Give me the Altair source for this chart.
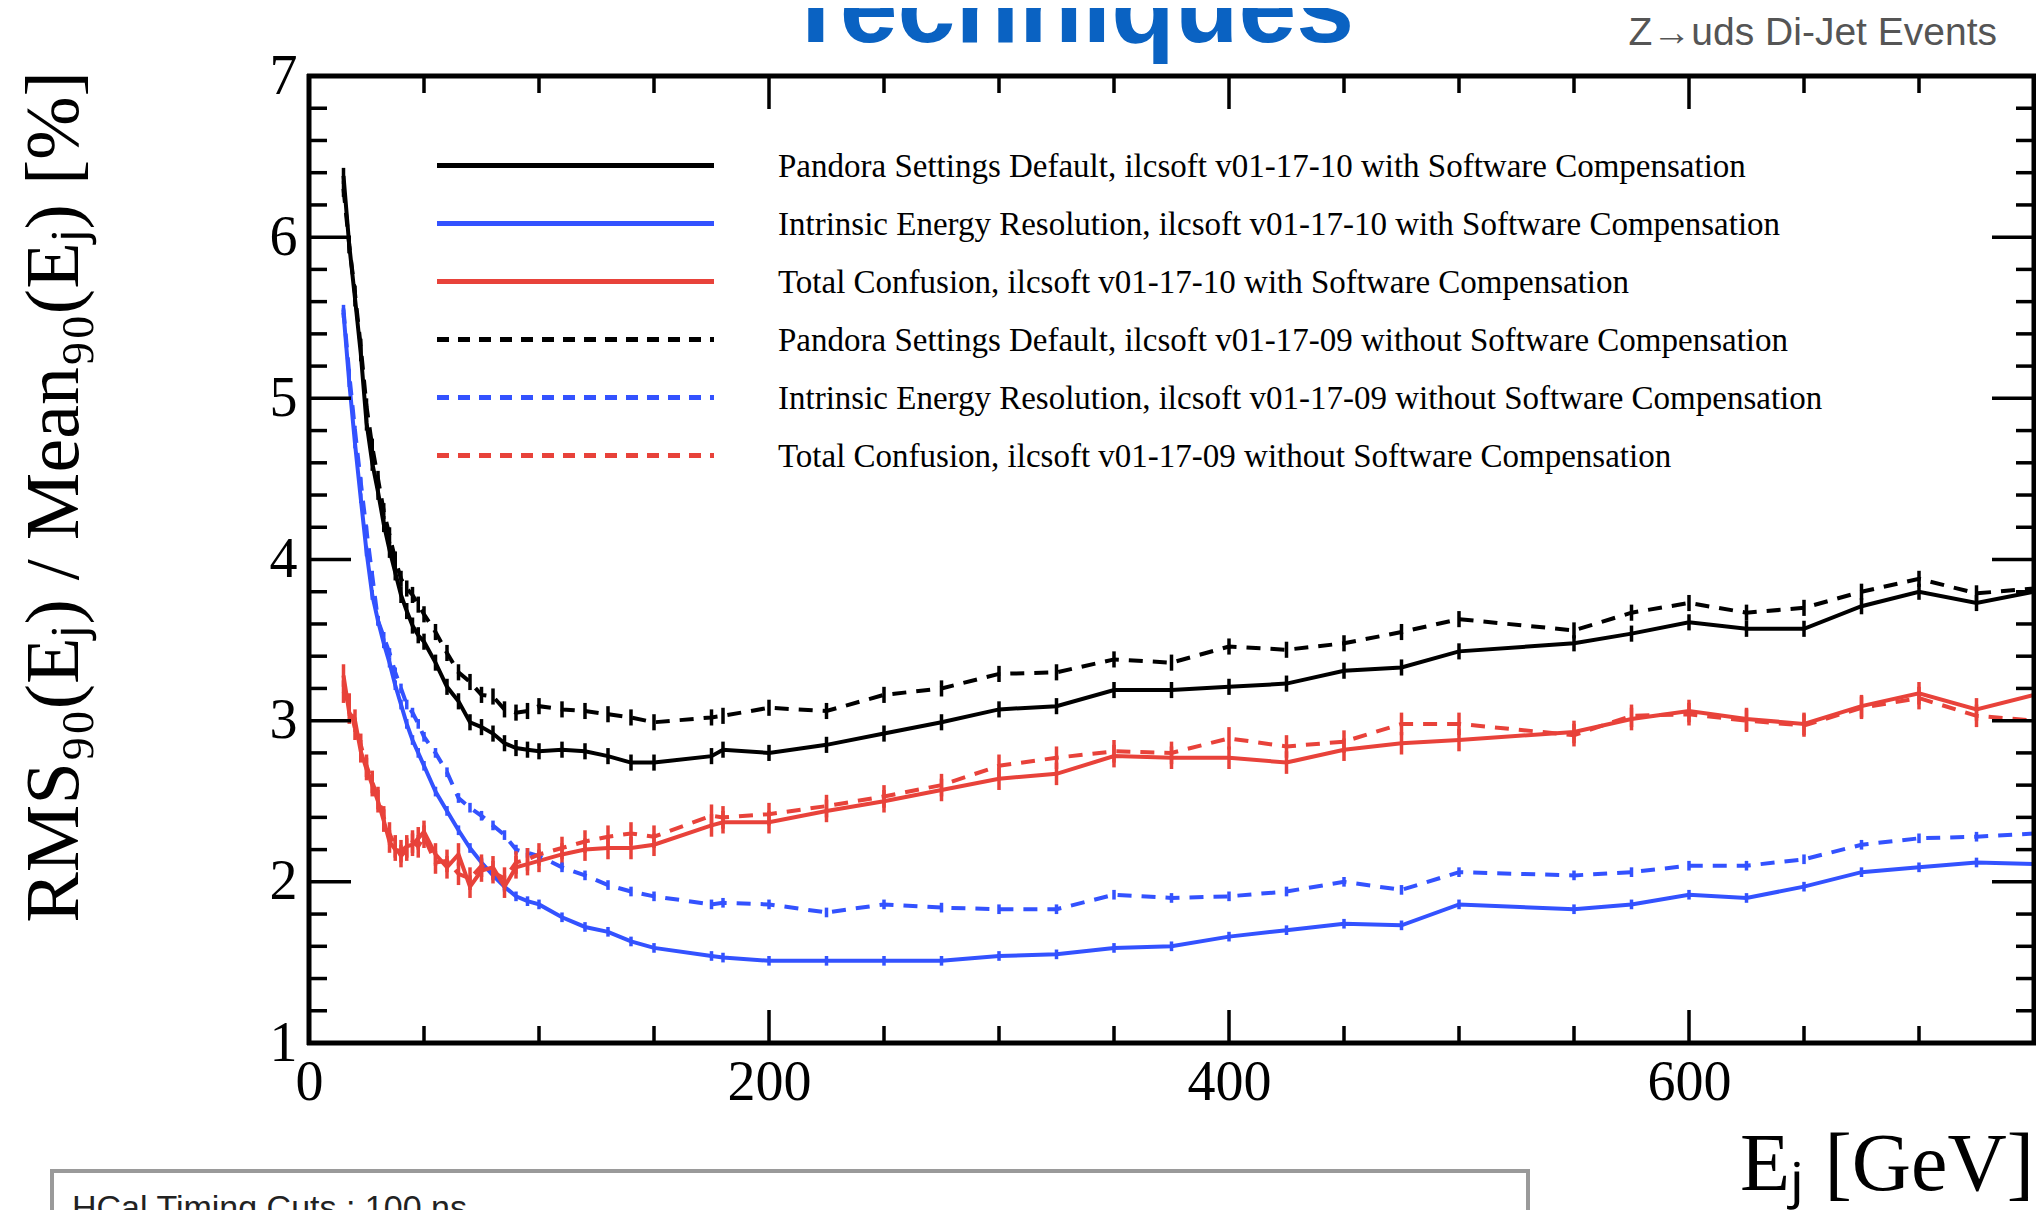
import altair as alt
import pandas as pd

# ---------------- data ----------------
E = [15, 17.5, 20, 22.5, 25, 27.5, 30, 32.5, 35, 37.5, 40, 42.5, 45, 47.5, 50,
     55, 60, 65, 70, 75, 80, 85, 90, 95, 100, 110, 120, 130, 140, 150, 175, 180,
     200, 225, 250, 275, 300, 325, 350, 375, 400, 425, 450, 475, 500, 550, 575,
     600, 625, 650, 675, 700, 725, 750]

psd_sc = [6.38, 5.95, 5.62, 5.28, 4.85, 4.60, 4.42, 4.22, 4.06, 3.92, 3.78, 3.68, 3.59, 3.53, 3.49,
          3.36, 3.21, 3.12, 2.99, 2.96, 2.92, 2.86, 2.83, 2.82, 2.81, 2.82, 2.81, 2.78, 2.74, 2.74, 2.78, 2.82,
          2.80, 2.85, 2.92, 2.99, 3.07, 3.09, 3.19, 3.19, 3.21, 3.23, 3.31, 3.33, 3.43, 3.48, 3.54,
          3.61, 3.57, 3.57, 3.71, 3.80, 3.73, 3.80]

ier_sc = [5.53, 5.10, 4.72, 4.38, 4.05, 3.78, 3.62, 3.48, 3.36, 3.22, 3.10, 2.98, 2.88, 2.80, 2.72,
          2.56, 2.44, 2.32, 2.21, 2.12, 2.04, 1.97, 1.91, 1.88, 1.86, 1.78, 1.72, 1.69, 1.63, 1.59, 1.54, 1.53,
          1.51, 1.51, 1.51, 1.51, 1.54, 1.55, 1.59, 1.60, 1.66, 1.70, 1.74, 1.73, 1.86, 1.83, 1.86,
          1.92, 1.90, 1.97, 2.06, 2.09, 2.12, 2.11]

tc_sc = [3.28, 3.05, 3.00, 2.81, 2.70, 2.60, 2.50, 2.38, 2.25, 2.20, 2.19, 2.22, 2.23, 2.27, 2.31,
         2.17, 2.09, 2.17, 1.97, 2.07, 2.09, 1.97, 2.09, 2.11, 2.13, 2.17, 2.20, 2.21, 2.21, 2.23, 2.35, 2.37,
         2.37, 2.44, 2.50, 2.57, 2.64, 2.67, 2.78, 2.77, 2.77, 2.74, 2.82, 2.86, 2.88, 2.93, 3.01,
         3.06, 3.01, 2.98, 3.09, 3.17, 3.07, 3.16]

psd_nosc = [6.30, 5.95, 5.65, 5.32, 4.95, 4.70, 4.50, 4.30, 4.15, 4.00, 3.88, 3.82, 3.78, 3.72, 3.66,
            3.55, 3.42, 3.30, 3.24, 3.16, 3.15, 3.07, 3.05, 3.06, 3.09, 3.07, 3.06, 3.04, 3.02, 2.99, 3.02, 3.03,
            3.08, 3.06, 3.16, 3.20, 3.29, 3.30, 3.38, 3.36, 3.46, 3.44, 3.48, 3.55, 3.63, 3.56, 3.67,
            3.73, 3.67, 3.70, 3.80, 3.88, 3.79, 3.82]

ier_nosc = [5.55, 5.15, 4.80, 4.48, 4.18, 3.90, 3.62, 3.52, 3.42, 3.30, 3.20, 3.10, 3.05, 2.98, 2.90,
            2.80, 2.68, 2.52, 2.46, 2.41, 2.35, 2.29, 2.20, 2.18, 2.16, 2.09, 2.04, 1.98, 1.94, 1.91, 1.86, 1.87,
            1.86, 1.81, 1.86, 1.84, 1.83, 1.83, 1.92, 1.90, 1.91, 1.94, 2.00, 1.95, 2.06, 2.04, 2.06,
            2.10, 2.10, 2.14, 2.23, 2.27, 2.28, 2.30]

tc_nosc = [3.18, 3.10, 2.95, 2.85, 2.72, 2.62, 2.52, 2.40, 2.30, 2.22, 2.16, 2.20, 2.25, 2.22, 2.28,
           2.12, 2.13, 2.05, 2.02, 2.10, 2.06, 2.02, 2.12, 2.14, 2.17, 2.21, 2.25, 2.28, 2.30, 2.28, 2.41, 2.40,
           2.42, 2.47, 2.53, 2.60, 2.72, 2.77, 2.81, 2.80, 2.89, 2.84, 2.87, 2.98, 2.98, 2.91, 3.03,
           3.04, 3.00, 2.97, 3.08, 3.14, 3.03, 3.00]

labels = [
    "Pandora Settings Default, ilcsoft v01-17-10 with Software Compensation",
    "Intrinsic Energy Resolution, ilcsoft v01-17-10 with Software Compensation",
    "Total Confusion, ilcsoft v01-17-10 with Software Compensation",
    "Pandora Settings Default, ilcsoft v01-17-09 without Software Compensation",
    "Intrinsic Energy Resolution, ilcsoft v01-17-09 without Software Compensation",
    "Total Confusion, ilcsoft v01-17-09 without Software Compensation",
]
values = [psd_sc, ier_sc, tc_sc, psd_nosc, ier_nosc, tc_nosc]
errors = [0.05, 0.03, 0.07, 0.05, 0.03, 0.07]

x_tick_labels = [0, 200, 400, 600]
y_tick_labels = [1, 2, 3, 4, 5, 6, 7]
x_minor = [50, 100, 150, 250, 300, 350, 450, 500, 550, 650, 700]
x_major = [200, 400, 600]
y_major = [2, 3, 4, 5, 6]
y_minor = [v / 10 for v in range(12, 70, 2) if v % 10 != 0]

# ---------------- styles ----------------
BLACK, BLUE, RED = "#000000", "#3352ff", "#e8423a"
colors = [BLACK, BLUE, RED, BLACK, BLUE, RED]
dashed = [False, False, False, True, True, True]
W, H = 1725, 967
SERIF = "Liberation Serif"
SANS = "Liberation Sans"

xs = alt.Scale(domain=[0, 750], nice=False, zero=False)
ys = alt.Scale(domain=[1, 7], nice=False, zero=False)
xaxis = alt.Axis(values=x_tick_labels, ticks=False, domain=False, grid=False,
                 labelFont=SERIF, labelFontSize=56, labelPadding=12, labelColor="black",
                 labelFlush=False, labelOverlap=False, title=None)
yaxis = alt.Axis(values=y_tick_labels, ticks=False, domain=False, grid=False,
                 labelFont=SERIF, labelFontSize=56, labelPadding=12, labelColor="black",
                 labelFlush=False, labelOverlap=False, title=None)

layers = []

# data lines + error bars
for lab, vals, col, dsh, err in zip(labels, values, colors, dashed, errors):
    df = pd.DataFrame({"E": E, "v": vals})
    df["lo"] = df["v"] - err
    df["hi"] = df["v"] + err
    kw = dict(color=col, strokeWidth=4)
    if dsh:
        kw["strokeDash"] = [14, 10]
    base = alt.Chart(df)
    layers.append(base.mark_line(**kw).encode(
        x=alt.X("E:Q", scale=xs, axis=xaxis),
        y=alt.Y("v:Q", scale=ys, axis=yaxis)))
    layers.append(base.mark_rule(color=col, strokeWidth=3.5).encode(
        x=alt.X("E:Q", scale=xs, axis=xaxis),
        y=alt.Y("lo:Q", scale=ys, axis=yaxis),
        y2="hi:Q"))

# inward ticks on all four sides
TW = 3.5
def xticks(vals, length):
    d = alt.Chart(pd.DataFrame({"t": vals}))
    xe = alt.X("t:Q", scale=xs, axis=xaxis)
    return [
        d.mark_rule(color="black", strokeWidth=TW).encode(x=xe, y=alt.value(H), y2=alt.value(H - length)),
        d.mark_rule(color="black", strokeWidth=TW).encode(x=xe, y=alt.value(0), y2=alt.value(length)),
    ]

def yticks(vals, length):
    d = alt.Chart(pd.DataFrame({"t": vals}))
    ye = alt.Y("t:Q", scale=ys, axis=yaxis)
    return [
        d.mark_rule(color="black", strokeWidth=TW).encode(y=ye, x=alt.value(0), x2=alt.value(length)),
        d.mark_rule(color="black", strokeWidth=TW).encode(y=ye, x=alt.value(W), x2=alt.value(W - length)),
    ]

layers += xticks(x_minor, 17) + xticks(x_major, 33) + yticks(y_minor, 18) + yticks(y_major, 42)

# thick frame
fr = alt.Chart(pd.DataFrame({"a": [0]}))
FW = 5
layers += [
    fr.mark_rule(color="black", strokeWidth=FW).encode(x=alt.value(-2), x2=alt.value(W + 2), y=alt.value(0)),
    fr.mark_rule(color="black", strokeWidth=FW).encode(x=alt.value(-2), x2=alt.value(W + 2), y=alt.value(H)),
    fr.mark_rule(color="black", strokeWidth=FW).encode(x=alt.value(0), y=alt.value(-2), y2=alt.value(H + 2)),
    fr.mark_rule(color="black", strokeWidth=FW).encode(x=alt.value(W), y=alt.value(-2), y2=alt.value(H + 2)),
]

# legend inside the frame
for i, (lab, col, dsh) in enumerate(zip(labels, colors, dashed)):
    ly = 89.5 + i * 58
    d = alt.Chart(pd.DataFrame({"label": [lab]}))
    kw = dict(color=col, strokeWidth=5)
    if dsh:
        kw["strokeDash"] = [12, 9]
    layers.append(d.mark_rule(**kw).encode(x=alt.value(128), x2=alt.value(405), y=alt.value(ly)))
    layers.append(d.mark_text(align="left", baseline="middle", font=SERIF, fontSize=33,
                              color="black").encode(x=alt.value(469), y=alt.value(ly + 1),
                                                    text="label:N"))

def note(text, x, y, **kw):
    return alt.Chart(pd.DataFrame({"s": [text]})).mark_text(**kw).encode(
        x=alt.value(x), y=alt.value(y), text="s:N")

# slide box at the bottom
layers.append(alt.Chart(pd.DataFrame({"a": [0]})).mark_rect(
    fill="white", stroke="#9a9a9a", strokeWidth=4).encode(
    x=alt.value(-257), x2=alt.value(1219), y=alt.value(1095), y2=alt.value(1200)))
layers.append(note("HCal Timing Cuts : 100 ns", -237, 1143, align="left", baseline="alphabetic",
                   font=SANS, fontSize=34, color="#222222"))

# titles and annotations
layers.append(note("Techniques", 760, -34, align="center", baseline="alphabetic",
                   font=SANS, fontSize=104, fontWeight="bold", color="#0a62c2"))
layers.append(note("Z→uds Di-Jet Events", 1688, -31, align="right", baseline="alphabetic",
                   font=SANS, fontSize=39, color="#555555"))
layers.append(note("RMS₉₀(Eⱼ) / Mean₉₀(Eⱼ) [%]", -231, 421, align="center", baseline="alphabetic",
                   angle=270, font=SERIF, fontSize=76, color="black"))
layers.append(note("Eⱼ [GeV]", W, 1114, align="right", baseline="alphabetic",
                   font=SERIF, fontSize=82, color="black"))

chart = alt.layer(*layers).properties(
    width=W, height=H,
    autosize=alt.AutoSizeParams(type="none"),
    padding={"left": 301, "top": 68, "right": 2, "bottom": 167},
).configure_view(stroke=None).configure(background="white")

chart.save("out.html", embed_options={"renderer": "svg", "actions": False})
